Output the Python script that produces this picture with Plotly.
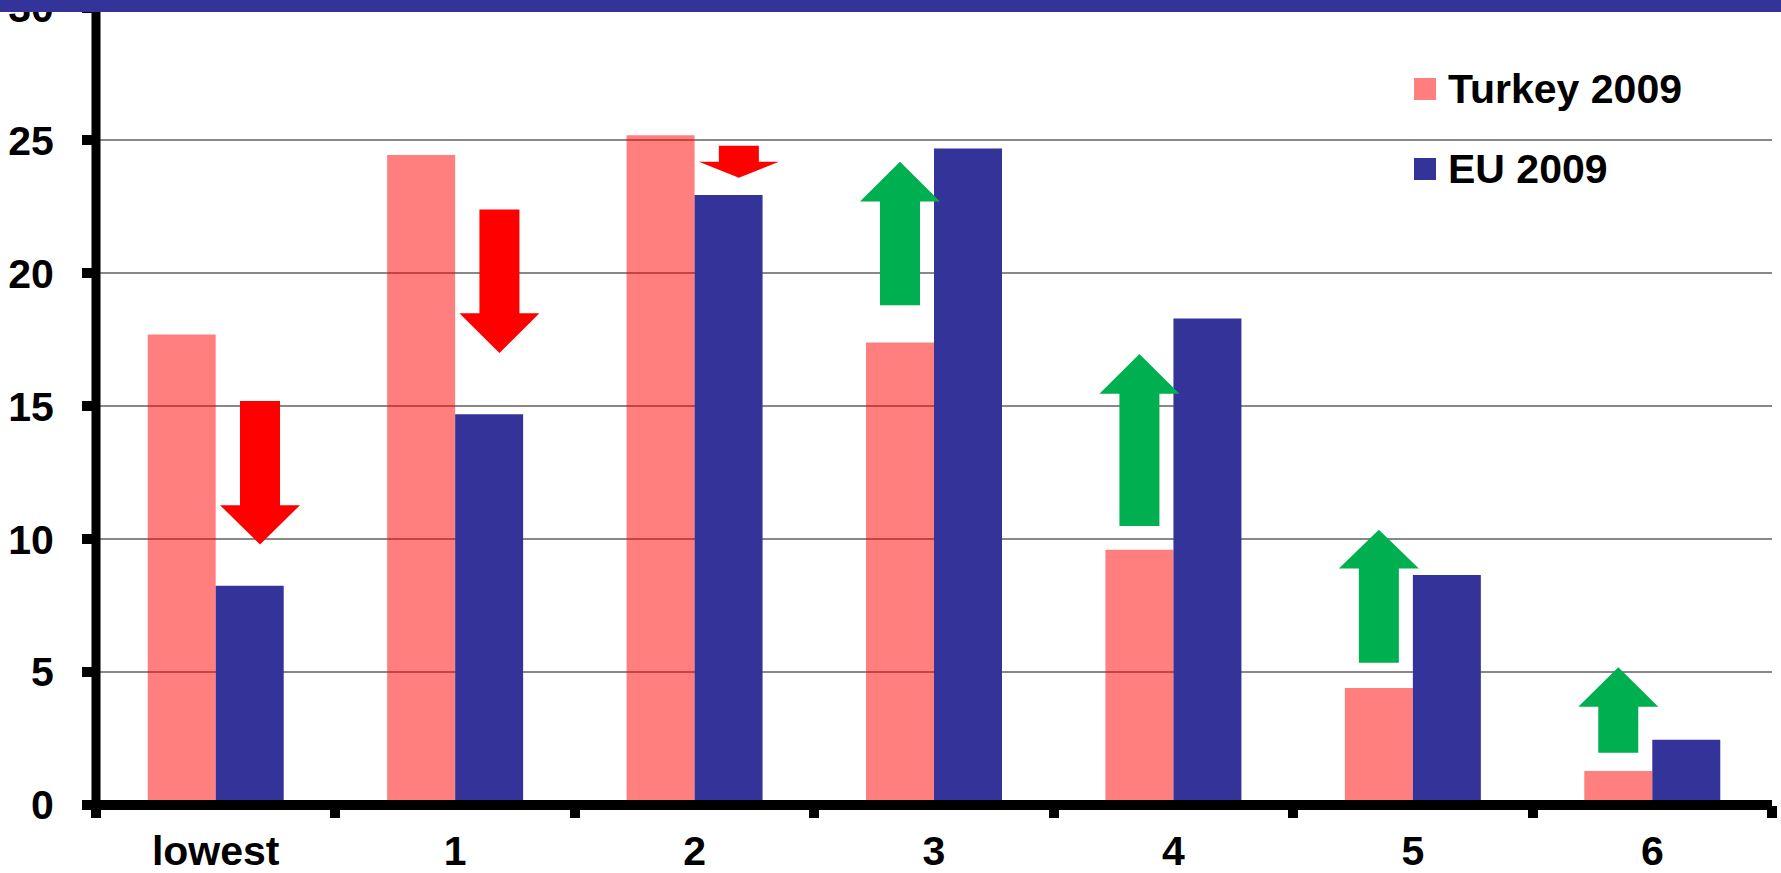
import plotly.graph_objects as go

categories = ["lowest", "1", "2", "3", "4", "5", "6"]
turkey_2009 = [17.7, 24.45, 25.2, 17.4, 9.6, 4.4, 1.28]
eu_2009 = [8.25, 14.7, 22.95, 24.7, 18.3, 8.65, 2.45]
y_ticks = [0, 5, 10, 15, 20, 25, 30]

# change arrows (Turkey -> EU): tail value, head-base value, tip value
arrow_tail = [15.2, 22.4, 24.8, 18.8, 10.5, 5.35, 1.97]
arrow_head_base = [11.28, 18.5, 24.2, 22.7, 15.47, 8.9, 3.7]
arrow_tip = [9.8, 17.0, 23.6, 24.2, 16.97, 10.35, 5.18]

W, H = 1781, 873
L, R, T, B = 96, 1772, 7, 805  # plot area in pixels
Y_TOP = 30.02


def px_x(p):
    return (p - L) / (R - L)


def px_y(p):
    return (B - p) / (B - T)


FONT = dict(family="Liberation Sans, Arial, sans-serif", size=41, color="black", weight="bold")
PINK = "rgba(255,0,0,0.5)"
NAVY = "#333399"

fig = go.Figure()
xs = list(range(len(categories)))
fig.add_trace(go.Bar(x=xs, y=turkey_2009, name="Turkey 2009", marker=dict(color=PINK, line=dict(width=0))))
fig.add_trace(go.Bar(x=xs, y=eu_2009, name="EU 2009", marker=dict(color=NAVY, line=dict(width=0))))

shapes = []
unit = (R - L) / len(categories)
shaft_half = 20 / unit
head_half = 40 / unit
for i in xs:
    tail, base, tip = arrow_tail[i], arrow_head_base[i], arrow_tip[i]
    down = tip < tail
    cx = i + (0.185 if down else -0.142)
    color = "#FF0000" if down else "#00B050"
    path = (f"M {cx - shaft_half},{tail} L {cx + shaft_half},{tail} L {cx + shaft_half},{base} "
            f"L {cx + head_half},{base} L {cx},{tip} L {cx - head_half},{base} L {cx - shaft_half},{base} Z")
    shapes.append(dict(type="path", path=path, xref="x", yref="y", fillcolor=color,
                       line=dict(width=0), layer="above"))

# axis lines
shapes.append(dict(type="line", xref="paper", yref="paper", x0=0, x1=0,
                   y0=px_y(810), y1=px_y(0), line=dict(color="black", width=9), layer="above"))
shapes.append(dict(type="line", xref="paper", yref="paper", x0=px_x(91), x1=1,
                   y0=0, y1=0, line=dict(color="black", width=10), layer="above"))
# top band
shapes.append(dict(type="rect", xref="paper", yref="paper", x0=px_x(0), x1=px_x(W),
                   y0=px_y(12), y1=px_y(-2), fillcolor=NAVY, line=dict(width=0), layer="above"))
# legend swatches
for ycen, col in [(89, PINK), (169, NAVY)]:
    shapes.append(dict(type="rect", xref="paper", yref="paper", x0=px_x(1414), x1=px_x(1436),
                       y0=px_y(ycen + 11), y1=px_y(ycen - 11), fillcolor=col, line=dict(width=0), layer="above"))

annotations = [
    dict(text="Turkey 2009", x=px_x(1446), y=px_y(89), xref="paper", yref="paper",
         xanchor="left", yanchor="middle", showarrow=False, font=FONT),
    dict(text="EU 2009", x=px_x(1446), y=px_y(169), xref="paper", yref="paper",
         xanchor="left", yanchor="middle", showarrow=False, font=FONT),
]

fig.update_layout(
    width=W, height=H,
    margin=dict(l=L, r=W - R, t=T, b=H - B, pad=0, autoexpand=False),
    paper_bgcolor="white", plot_bgcolor="white",
    barmode="group", bargap=0.432, bargroupgap=0,
    showlegend=False,
    shapes=shapes, annotations=annotations,
    font=FONT,
)
fig.update_xaxes(
    range=[-0.5, 6.5], tickvals=xs, ticktext=categories, ticks="", automargin=False,
    showgrid=False, zeroline=False, showline=False, tickfont=FONT, ticklabelstandoff=18,
    minor=dict(tickvals=[i - 0.5 for i in range(len(categories) + 1)], ticks="outside",
               ticklen=12, tickwidth=10, tickcolor="black", showgrid=False),
)
fig.update_yaxes(
    range=[0, Y_TOP], tickvals=y_ticks, ticks="outside", ticklen=13, tickwidth=10, tickcolor="black",
    showgrid=True, gridcolor="#888888", gridwidth=2, zeroline=False, showline=False, tickfont=FONT,
    automargin=False, ticklabeloverflow="allow", ticklabelstandoff=20,
)

fig.write_html("out.html", config={"displayModeBar": False},
               post_script="document.body.style.margin='0';document.body.style.overflow='hidden';")
